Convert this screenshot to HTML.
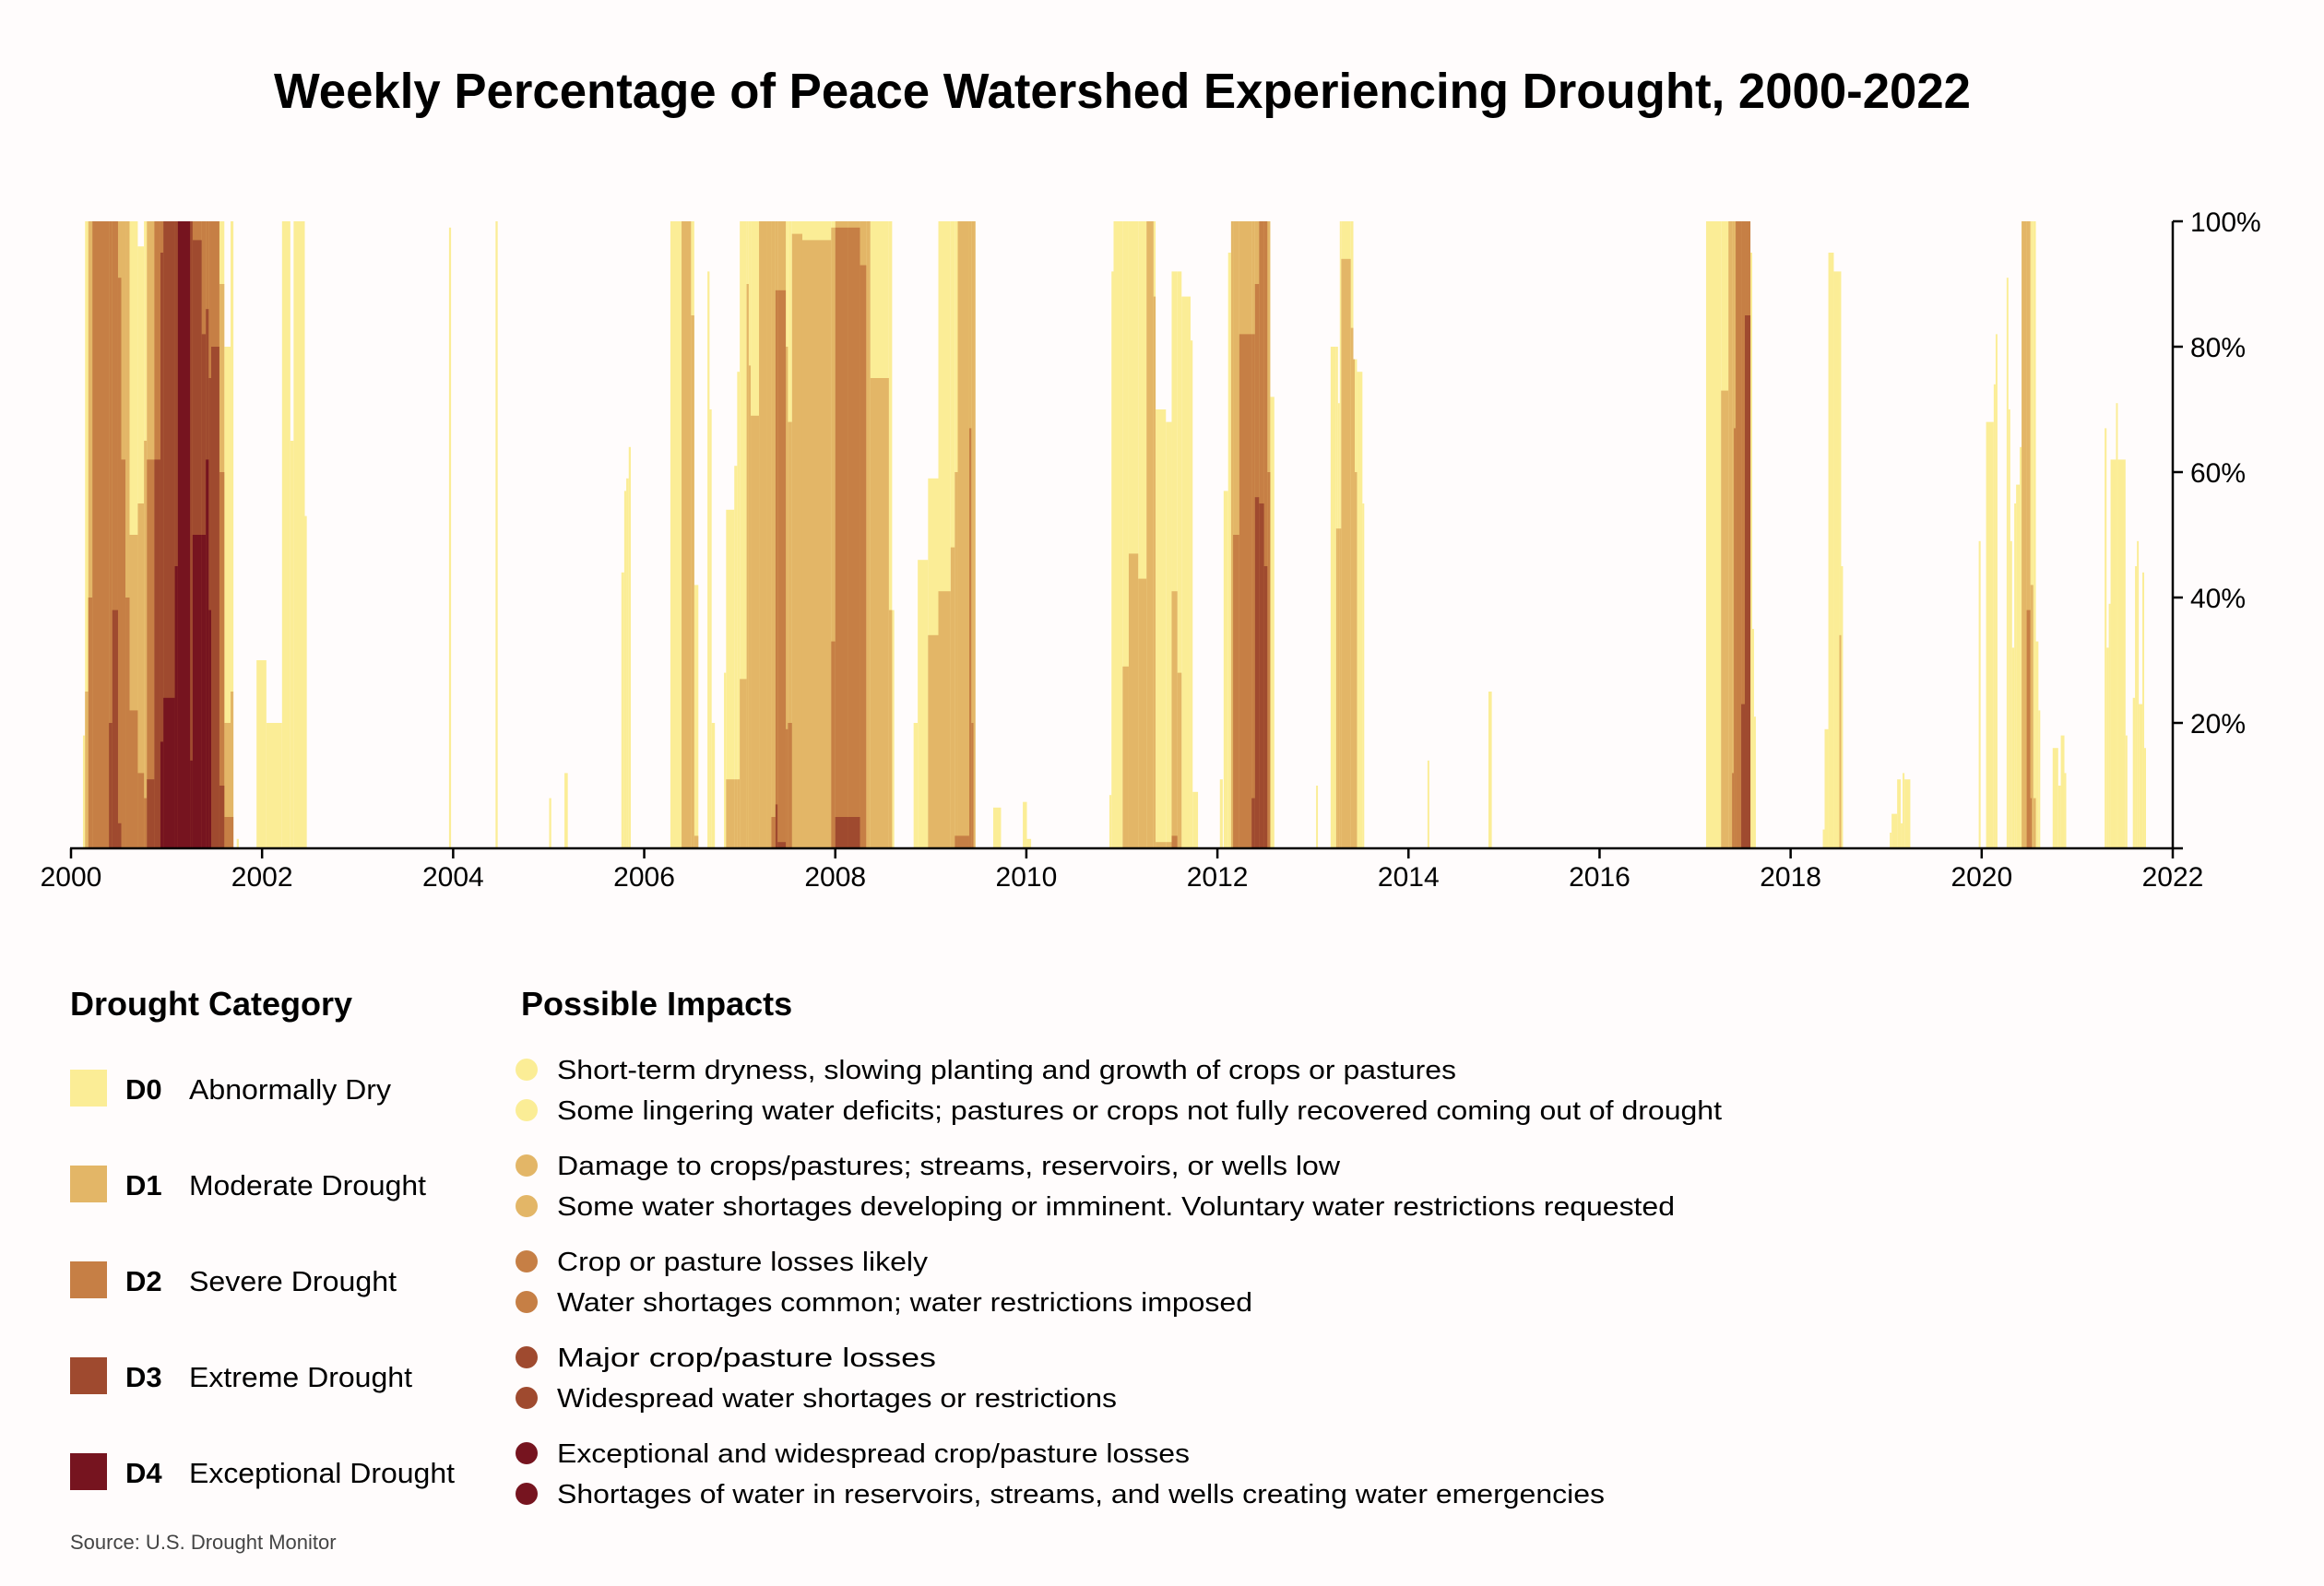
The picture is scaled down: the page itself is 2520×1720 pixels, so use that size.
<!DOCTYPE html>
<html><head><meta charset="utf-8">
<style>
html,body{margin:0;padding:0;background:#fffcfc;}
svg{display:block;font-family:"Liberation Sans",sans-serif;}
</style></head>
<body>
<svg id="chart" width="2520" height="1720" viewBox="0 0 2520 1720" xmlns="http://www.w3.org/2000/svg">
<rect x="0" y="0" width="2520" height="1720" fill="#fffcfc"/>
<text x="297" y="117" font-size="54" font-weight="bold" fill="#000" textLength="1840" lengthAdjust="spacingAndGlyphs">Weekly Percentage of Peace Watershed Experiencing Drought, 2000-2022</text>
<g id="bars"></g>
<g id="axes"></g>

<g>
<text x="76" y="1101" font-size="36" font-weight="bold">Drought Category</text>
<rect x="76" y="1160" width="40" height="40" fill="#fbed96"/>
<text x="136" y="1192" font-size="31" font-weight="bold">D0</text>
<text x="205" y="1192" font-size="31" textLength="219" lengthAdjust="spacingAndGlyphs">Abnormally Dry</text>
<rect x="76" y="1264" width="40" height="40" fill="#e3b667"/>
<text x="136" y="1296" font-size="31" font-weight="bold">D1</text>
<text x="205" y="1296" font-size="31" textLength="257" lengthAdjust="spacingAndGlyphs">Moderate Drought</text>
<rect x="76" y="1368" width="40" height="40" fill="#c67f45"/>
<text x="136" y="1400" font-size="31" font-weight="bold">D2</text>
<text x="205" y="1400" font-size="31" textLength="225" lengthAdjust="spacingAndGlyphs">Severe Drought</text>
<rect x="76" y="1472" width="40" height="40" fill="#9f4a2f"/>
<text x="136" y="1504" font-size="31" font-weight="bold">D3</text>
<text x="205" y="1504" font-size="31" textLength="242" lengthAdjust="spacingAndGlyphs">Extreme Drought</text>
<rect x="76" y="1576" width="40" height="40" fill="#76141f"/>
<text x="136" y="1608" font-size="31" font-weight="bold">D4</text>
<text x="205" y="1608" font-size="31" textLength="288" lengthAdjust="spacingAndGlyphs">Exceptional Drought</text>
</g>

<g font-size="29">
<text x="565" y="1101" font-size="36" font-weight="bold">Possible Impacts</text>
<circle cx="571" cy="1160" r="12" fill="#fbed96"/>
<text x="604" y="1170" textLength="975" lengthAdjust="spacingAndGlyphs">Short-term dryness, slowing planting and growth of crops or pastures</text>
<circle cx="571" cy="1204" r="12" fill="#fbed96"/>
<text x="604" y="1214" textLength="1263" lengthAdjust="spacingAndGlyphs">Some lingering water deficits; pastures or crops not fully recovered coming out of drought</text>
<circle cx="571" cy="1264" r="12" fill="#e3b667"/>
<text x="604" y="1274" textLength="849" lengthAdjust="spacingAndGlyphs">Damage to crops/pastures; streams, reservoirs, or wells low</text>
<circle cx="571" cy="1308" r="12" fill="#e3b667"/>
<text x="604" y="1318" textLength="1212" lengthAdjust="spacingAndGlyphs">Some water shortages developing or imminent. Voluntary water restrictions requested</text>
<circle cx="571" cy="1368" r="12" fill="#c67f45"/>
<text x="604" y="1378" textLength="402" lengthAdjust="spacingAndGlyphs">Crop or pasture losses likely</text>
<circle cx="571" cy="1412" r="12" fill="#c67f45"/>
<text x="604" y="1422" textLength="754" lengthAdjust="spacingAndGlyphs">Water shortages common; water restrictions imposed</text>
<circle cx="571" cy="1472" r="12" fill="#9f4a2f"/>
<text x="604" y="1482" textLength="411" lengthAdjust="spacingAndGlyphs">Major crop/pasture losses</text>
<circle cx="571" cy="1516" r="12" fill="#9f4a2f"/>
<text x="604" y="1526" textLength="607" lengthAdjust="spacingAndGlyphs">Widespread water shortages or restrictions</text>
<circle cx="571" cy="1576" r="12" fill="#76141f"/>
<text x="604" y="1586" textLength="686" lengthAdjust="spacingAndGlyphs">Exceptional and widespread crop/pasture losses</text>
<circle cx="571" cy="1620" r="12" fill="#76141f"/>
<text x="604" y="1630" textLength="1136" lengthAdjust="spacingAndGlyphs">Shortages of water in reservoirs, streams, and wells creating water emergencies</text>
</g>
<text x="76" y="1680" font-size="22" fill="#444">Source: U.S. Drought Monitor</text>
</svg>
<script>
// ---- data: periods (decimal years) and cumulative % area in D0+..D4 ----
const periodStart = [2000.125,2000.147,2000.181,2000.224,2000.397,2000.432,2000.492,2000.526,2000.570,2000.613,2000.699,2000.764,2000.794,2000.872,2000.936,2000.967,2001.087,2001.118,2001.247,2001.273,2001.368,2001.411,2001.441,2001.467,2001.553,2001.605,2001.670,2001.735,
2001.942,2002.045,2002.209,2002.296,2002.330,2002.447,2003.957,2004.444,2005.005,2005.165,2005.761,2005.791,2005.812,2005.838,
2006.274,2006.391,2006.490,2006.524,2006.662,2006.684,2006.706,2006.835,2006.857,2006.943,2006.973,2007.0,2007.072,2007.094,2007.115,2007.202,2007.288,2007.331,2007.374,2007.396,2007.482,2007.504,2007.547,2007.655,2007.957,2008.0,2008.129,2008.259,2008.324,2008.367,2008.561,2008.595,
2008.820,2008.863,2008.971,2009.079,2009.208,2009.251,2009.282,2009.402,2009.424,2009.446,2009.653,2009.963,2010.006,
2010.869,2010.891,2010.913,2011.008,2011.072,2011.171,2011.258,2011.331,2011.353,2011.461,2011.521,2011.581,2011.625,2011.719,2011.741,
2012.026,2012.065,2012.112,2012.143,2012.164,2012.229,2012.358,2012.393,2012.436,2012.488,2012.523,2012.553,
2013.033,2013.185,2013.243,2013.262,2013.281,2013.296,2013.396,2013.423,2013.434,2013.461,2013.518,2014.199,2014.837,
2017.115,2017.272,2017.349,2017.387,2017.406,2017.425,2017.483,2017.521,2017.579,2017.598,2017.617,
2018.337,2018.356,2018.395,2018.452,2018.510,2018.529,
2019.038,2019.057,2019.115,2019.153,2019.172,2019.192,
2019.969,2020.046,2020.126,2020.146,2020.261,2020.280,2020.299,2020.318,2020.341,2020.360,2020.398,2020.418,2020.471,2020.510,2020.521,2020.540,2020.567,2020.594,
2020.743,2020.801,2020.828,2020.866,
2021.287,2021.307,2021.330,2021.349,2021.406,2021.425,2021.506,2021.582,2021.605,2021.625,2021.644,2021.682,2021.701];
const periodEnd = [2000.147,2000.181,2000.224,2000.397,2000.432,2000.492,2000.526,2000.570,2000.613,2000.699,2000.764,2000.794,2000.872,2000.936,2000.967,2001.087,2001.118,2001.247,2001.273,2001.368,2001.411,2001.441,2001.467,2001.553,2001.605,2001.670,2001.700,2001.756,
2002.045,2002.209,2002.296,2002.330,2002.447,2002.468,2003.978,2004.466,2005.027,2005.200,2005.791,2005.812,2005.838,2005.860,
2006.391,2006.490,2006.524,2006.567,2006.684,2006.706,2006.740,2006.857,2006.943,2006.973,2007.0,2007.072,2007.094,2007.115,2007.202,2007.288,2007.331,2007.374,2007.396,2007.482,2007.504,2007.547,2007.655,2007.957,2008.0,2008.129,2008.259,2008.324,2008.367,2008.561,2008.595,2008.617,
2008.863,2008.971,2009.079,2009.208,2009.251,2009.282,2009.402,2009.424,2009.446,2009.467,2009.735,2010.006,2010.050,
2010.891,2010.913,2011.008,2011.072,2011.171,2011.258,2011.331,2011.353,2011.461,2011.521,2011.581,2011.625,2011.719,2011.741,2011.797,
2012.056,2012.112,2012.143,2012.164,2012.229,2012.358,2012.393,2012.436,2012.488,2012.523,2012.553,2012.596,
2013.052,2013.243,2013.262,2013.281,2013.296,2013.396,2013.423,2013.434,2013.461,2013.518,2013.537,2014.218,2014.872,
2017.272,2017.349,2017.387,2017.406,2017.425,2017.483,2017.521,2017.579,2017.598,2017.617,2017.636,
2018.356,2018.395,2018.452,2018.510,2018.529,2018.548,
2019.057,2019.115,2019.153,2019.172,2019.192,2019.253,
2019.989,2020.126,2020.146,2020.165,2020.280,2020.299,2020.318,2020.341,2020.360,2020.398,2020.418,2020.471,2020.510,2020.521,2020.540,2020.567,2020.594,2020.613,
2020.801,2020.828,2020.866,2020.885,
2021.307,2021.330,2021.349,2021.406,2021.425,2021.506,2021.525,2021.605,2021.625,2021.644,2021.682,2021.701,2021.720];
const pctD0 = [18,100,100,100,100,100,100,100,100,100,96,100,100,100,100,100,100,100,100,100,100,100,100,100,100,80,100,1.5,
30,20,100,65,100,53,99,100,8,12,44,57,59,64,
100,100,100,42,92,70,20,28,54,61,76,100,100,100,100,100,100,100,100,100,100,100,100,100,100,100,100,100,100,100,100,38,
20,46,59,100,100,100,100,100,100,100,6.5,7.4,1.5,
8.5,92,100,100,100,100,100,100,70,68,92,92,88,81,9,
11,57,95,100,100,100,100,100,100,100,100,72,
10,80,80,71,100,100,100,78,78,76,55,14,25,
100,100,100,100,100,100,100,100,95,35,21,
3,19,95,92,92,45,
2.5,5.5,11,4,12,11,
49,68,74,82,91,70,49,32,55,58,64,100,100,100,100,100,33,22,
16,10,18,12,
67,32,39,62,71,62,18,24,45,49,23,44,16];
const pctD1 = [0,25,100,100,100,100,100,100,100,50,55,65,100,100,100,100,100,100,100,100,100,100,100,100,90,20,25,0,
0,0,0,0,0,0,0,0,0,0,0,0,0,0,
0,100,85,2,0,0,0,0,11,11,11,27,90,77,69,100,100,100,100,100,80,68,98,97,99,100,100,100,100,75,38,0,
0,0,34,41,48,60,100,100,100,100,0,0,0,
0,0,0,29,47,43,100,88,1,1,41,28,0,0,0,
0,0,0,100,100,100,100,100,100,100,100,0,
0,0,51,51,51,94,83,78,60,0,0,0,0,
0,73,100,100,100,100,100,100,0,0,0,
0,0,0,0,34,0,
0,0,0,0,0,0,
0,0,0,0,0,0,0,0,0,0,0,100,100,42,42,8,0,0,
0,0,0,0,
0,0,0,0,0,0,0,0,0,0,0,0,0];
const pctD2 = [0,0,40,100,100,100,91,62,40,22,12,8,62,100,100,100,100,100,100,100,100,100,100,100,60,5,5,0,
0,0,0,0,0,0,0,0,0,0,0,0,0,0,
0,0,0,0,0,0,0,0,0,0,0,0,0,0,0,0,0,5,89,89,19,20,0,0,33,99,99,93,0,0,0,0,
0,0,0,0,0,2,2,67,20,0,0,0,0,
0,0,0,0,0,0,0,0,0,0,2,0,0,0,0,
0,0,0,0,50,82,82,90,100,100,60,0,
0,0,0,0,0,0,0,0,0,0,0,0,0,
0,0,0,12,67,100,100,100,0,0,0,
0,0,0,0,0,0,
0,0,0,0,0,0,
0,0,0,0,0,0,0,0,0,0,0,0,38,8,0,0,0,0,
0,0,0,0,
0,0,0,0,0,0,0,0,0,0,0,0,0];
const pctD3 = [0,0,0,0,20,38,4,0,0,0,0,0,11,62,95,100,100,100,100,97,82,86,75,80,10,0,0,0,
0,0,0,0,0,0,0,0,0,0,0,0,0,0,
0,0,0,0,0,0,0,0,0,0,0,0,0,0,0,0,0,0,7,1,0,0,0,0,0,5,5,0,0,0,0,0,
0,0,0,0,0,0,0,0,0,0,0,0,0,
0,0,0,0,0,0,0,0,0,0,0,0,0,0,0,
0,0,0,0,0,0,8,56,55,45,0,0,
0,0,0,0,0,0,0,0,0,0,0,0,0,
0,0,0,0,0,0,23,85,0,0,0,
0,0,0,0,0,0,
0,0,0,0,0,0,
0,0,0,0,0,0,0,0,0,0,0,0,0,0,0,0,0,0,
0,0,0,0,
0,0,0,0,0,0,0,0,0,0,0,0,0];
const pctD4 = [0,0,0,0,0,0,0,0,0,0,0,0,0,0,17,24,45,100,14,50,50,62,38,0,0,0,0,0,
0,0,0,0,0,0,0,0,0,0,0,0,0,0,
0,0,0,0,0,0,0,0,0,0,0,0,0,0,0,0,0,0,0,0,0,0,0,0,0,0,0,0,0,0,0,0,
0,0,0,0,0,0,0,0,0,0,0,0,0,
0,0,0,0,0,0,0,0,0,0,0,0,0,0,0,
0,0,0,0,0,0,0,0,0,0,0,0,
0,0,0,0,0,0,0,0,0,0,0,0,0,
0,0,0,0,0,0,0,0,0,0,0,
0,0,0,0,0,0,
0,0,0,0,0,0,
0,0,0,0,0,0,0,0,0,0,0,0,0,0,0,0,0,0,
0,0,0,0,
0,0,0,0,0,0,0,0,0,0,0,0,0];
const xTickYears = [2000,2002,2004,2006,2008,2010,2012,2014,2016,2018,2020,2022];
const yTickValues = [20,40,60,80,100];
const yTickLabels = ["20%","40%","60%","80%","100%"];
const levelNames = ["d0","d1","d2","d3","d4"];
const levelColors = ["#fbed96","#e3b667","#c67f45","#9f4a2f","#76141f"];

const NS = "http://www.w3.org/2000/svg";
const X0 = 77, X1 = 2356, Y0 = 920, Y1 = 240;
function xScale(yr){ return X0 + (yr - 2000) / 22 * (X1 - X0); }
function yScale(p){ return Y0 - p / 100 * (Y0 - Y1); }

const bars = document.getElementById("bars");
const levels = [pctD0, pctD1, pctD2, pctD3, pctD4];
for (let k = 0; k < 5; k++) {
  for (let i = 0; i < periodStart.length; i++) {
    const v = levels[k][i];
    if (!(v > 0)) continue;
    const r = document.createElementNS(NS, "rect");
    const xa = xScale(periodStart[i]), xb = xScale(periodEnd[i]);
    r.setAttribute("x", xa.toFixed(2));
    r.setAttribute("width", Math.max(1.5, xb - xa).toFixed(2));
    r.setAttribute("y", yScale(v).toFixed(2));
    r.setAttribute("height", (Y0 - yScale(v)).toFixed(2));
    r.setAttribute("fill", levelColors[k]);
    
    
    bars.appendChild(r);
  }
}

const axes = document.getElementById("axes");
function line(x1,y1,x2,y2,name){
  const l = document.createElementNS(NS,"line");
  l.setAttribute("x1",x1);l.setAttribute("y1",y1);l.setAttribute("x2",x2);l.setAttribute("y2",y2);
  l.setAttribute("stroke","#000");l.setAttribute("stroke-width","2.5");
  
  
  axes.appendChild(l);
}
function label(x,y,txt,anchor,name){
  const t = document.createElementNS(NS,"text");
  t.setAttribute("x",x);t.setAttribute("y",y);t.setAttribute("font-size","30");
  t.setAttribute("text-anchor",anchor);t.setAttribute("fill","#000");
  t.textContent = txt;
  
  
  axes.appendChild(t);
}
line(X0 - 1, Y0, X1 + 11, Y0, "x-axis-line");
line(X1, Y0, X1, Y1, "y-axis-line");
xTickYears.forEach(yr => {
  const x = xScale(yr);
  line(x, Y0, x, Y0 + 11, "x-tick-" + yr);
  label(x, 961, String(yr), "middle", "x-tick-label-" + yr);
});
yTickValues.forEach((v, i) => {
  const y = yScale(v);
  line(X1, y, X1 + 11, y, "y-tick-" + v);
  label(X1 + 19, y + 11, yTickLabels[i], "start", "y-tick-label-" + v);
});
</script>
</body></html>
